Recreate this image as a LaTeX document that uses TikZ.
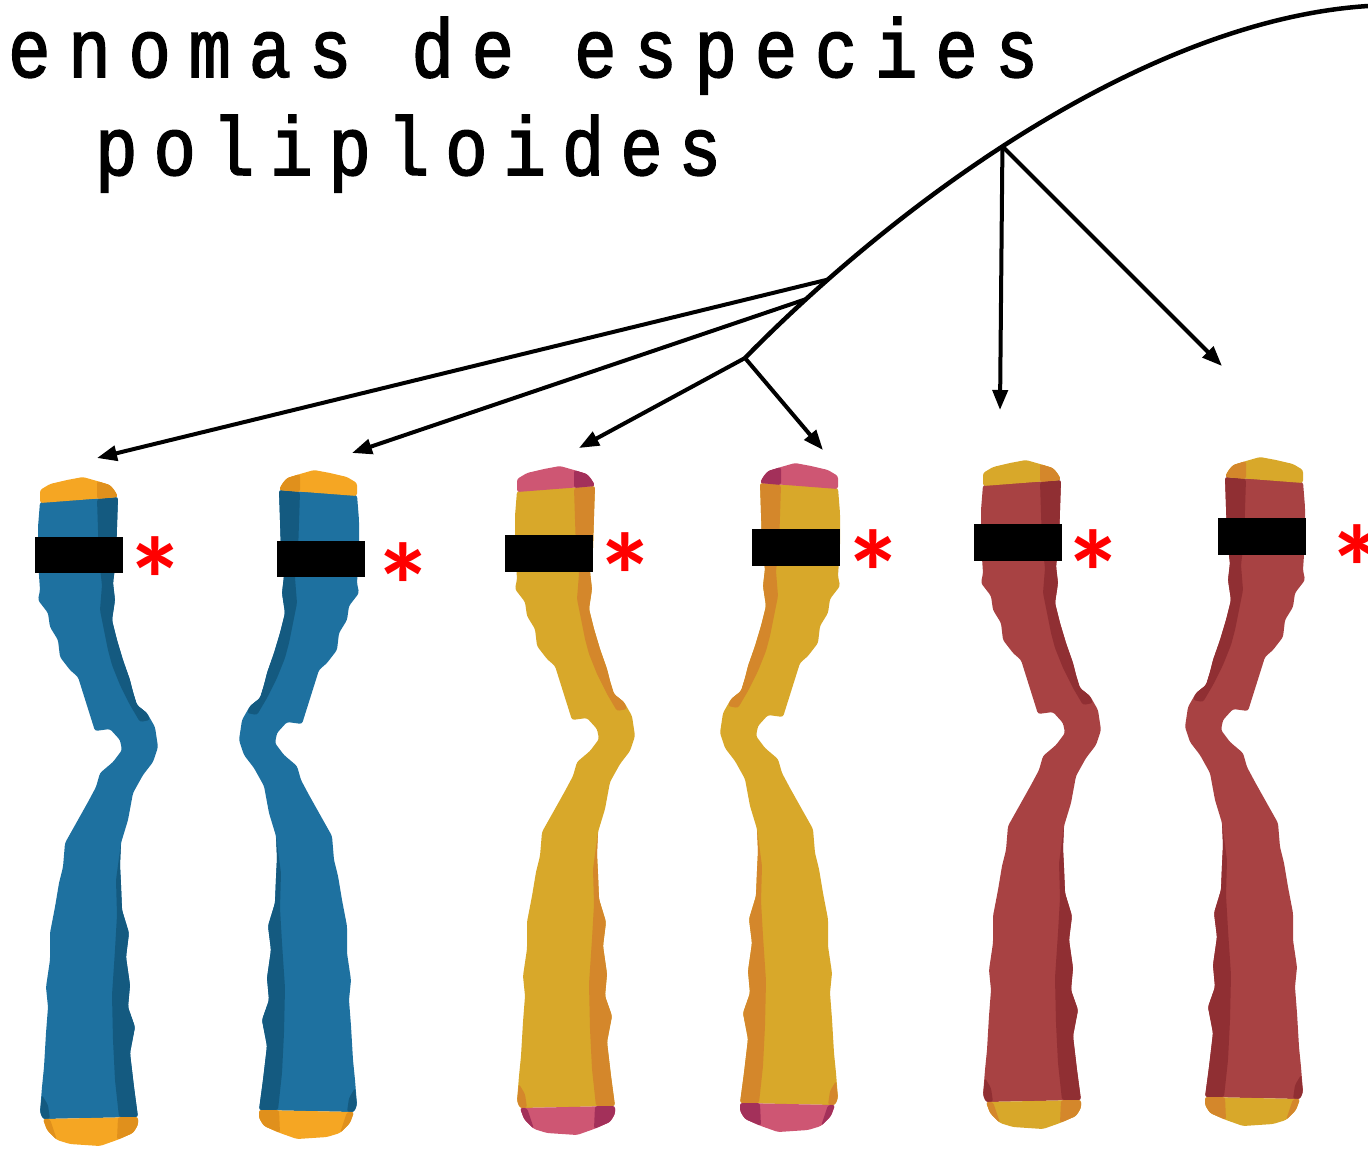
\documentclass[tikz,border=0pt]{standalone}
\usepackage{fontspec}
\newfontfamily\titlefont[LetterSpace=21.5, FakeStretch=0.85, FakeBold=2]{Liberation Mono}
\newfontfamily\subtitlefont[LetterSpace=19.3, FakeStretch=0.85, FakeBold=2]{Liberation Mono}
\newfontfamily\starfont{Carlito}
\usetikzlibrary{arrows.meta}

\definecolor{bluebody}{HTML}{1E71A0}
\definecolor{bluedark}{HTML}{145A80}
\definecolor{orangecap}{HTML}{F5A623}
\definecolor{orangedark}{HTML}{E0901C}
\definecolor{yellowbody}{HTML}{D8A82A}
\definecolor{yellowdark}{HTML}{D4872B}
\definecolor{pinkcap}{HTML}{CE5673}
\definecolor{pinkdark}{HTML}{A3305A}
\definecolor{redbody}{HTML}{A84243}
\definecolor{reddark}{HTML}{902F33}

\tikzset{
  trunk/.style={line width=4.5pt},
  link/.style={line width=4pt, -{Triangle[length=20pt,width=15pt]}},
  titletext/.style={font=\titlefont\fontsize{83}{90}\selectfont, anchor=base west, inner sep=0pt},
  subtitletext/.style={font=\subtitlefont\fontsize{83}{90}\selectfont, anchor=base west, inner sep=0pt},
  blackbar/.style={fill=black},
  redstar/.style={text=red, font=\starfont\bfseries\fontsize{120}{120}\selectfont, inner sep=0pt, anchor=center},
}

% one chromosome: #1 placement, #2 body, #3 shade, #4 telomere, #5 telomere shade
\newcommand\chromosome[5]{%
  \begin{scope}[#1, rounded corners=2.5pt]
    \fill[#2] (40,502) -- (118,497) -- (117,527) -- (116,560) -- (113,583) -- (115,600) -- (112,620)
      -- (117,640) -- (123,660) -- (130,680) -- (133,692) -- (137,705) -- (147,713) -- (155,727)
      -- (158,747) -- (153,762) -- (143,775) -- (133,793) -- (128,820) -- (121,843) -- (120,865)
      -- (121,885) -- (122,910) -- (129,933) -- (126,957) -- (130,985) -- (128,1007) -- (135,1027)
      -- (130,1053) -- (134,1087) -- (138,1117) -- (43,1119) -- (40,1112) -- (42,1087) -- (44,1067)
      -- (46,1033) -- (48,1007) -- (46,987) -- (50,960) -- (50,933) -- (55,907) -- (59,883)
      -- (63,867) -- (65,843) -- (74,827) -- (88,802) -- (96,787) -- (100,773) -- (113,762)
      -- (122,750) -- (120,740) -- (110,729) -- (95,731) -- (78,677) -- (70,670) -- (60,657)
      -- (58,640) -- (50,627) -- (48,613) -- (38,600) -- (40,590) -- (38,560) -- (38,527) -- cycle;
    \fill[#3] (97,499) -- (118,497) -- (117,527) -- (116,560) -- (113,583) -- (115,600) -- (112,620)
      -- (117,640) -- (123,660) -- (130,680) -- (133,692) -- (137,705) -- (147,713) -- (150,720)
      -- (140,722) -- (130,705) -- (120,685) -- (112,665) -- (108,650) -- (104,630) -- (100,610)
      -- (102,585) -- (99,560) -- (98,530) -- cycle;
    \fill[#3] (121,843) -- (120,865) -- (121,885) -- (122,910) -- (129,933) -- (126,957) -- (130,985)
      -- (128,1007) -- (135,1027) -- (130,1053) -- (134,1087) -- (138,1117) -- (119,1117)
      -- (115,1080) -- (113,1040) -- (112,995) -- (115,950) -- (117,915) -- (116,880) -- cycle;
    \fill[#3] (43,1119) -- (40,1112) -- (42,1095) -- (48,1105) -- (50,1119) -- cycle;
    % telomeres
    \fill[#4] (40,503) -- (40,490) -- (50,484) -- (67,480) -- (83,477) -- (97,481) -- (110,485)
      -- (115,491) -- (118,497) -- cycle;
    \fill[#5] (97,481) -- (110,485) -- (115,491) -- (118,497) -- (97,499) -- cycle;
    \fill[#4] (43,1119) -- (138,1117) -- (138,1125) -- (133,1133) -- (117,1140) -- (100,1146)
      -- (70,1144) -- (57,1140) -- (47,1130) -- cycle;
    \fill[#5] (118,1117) -- (138,1117) -- (138,1125) -- (133,1133) -- (117,1140) -- cycle;
    \fill[#5] (43,1119) -- (50,1119) -- (57,1140) -- (47,1130) -- cycle;
  \end{scope}}

\begin{document}
\begin{tikzpicture}[x=1pt, y=-1pt]
  \useasboundingbox (0,0) rectangle (1368,1149);

  % title
  \node[titletext] (title1) at (8,77) {enomas de especies};
  \node[subtitletext] (title2) at (95,175) {poliploides};

  % chromosomes
  \chromosome{shift={(0,0)}}{bluebody}{bluedark}{orangecap}{orangedark}
  \chromosome{shift={(397,-7)}, xscale=-1}{bluebody}{bluedark}{orangecap}{orangedark}
  \chromosome{shift={(477,-11)}}{yellowbody}{yellowdark}{pinkcap}{pinkdark}
  \chromosome{shift={(878,-14)}, xscale=-1}{yellowbody}{yellowdark}{pinkcap}{pinkdark}
  \chromosome{shift={(943,-17)}}{redbody}{reddark}{yellowbody}{yellowdark}
  \chromosome{shift={(1343,-20)}, xscale=-1}{redbody}{reddark}{yellowbody}{yellowdark}

  % markers
  \fill[blackbar] (35,537) rectangle (123,573);
  \fill[blackbar] (277,541) rectangle (365,577);
  \fill[blackbar] (505,535) rectangle (593,572);
  \fill[blackbar] (752,529) rectangle (840,566);
  \fill[blackbar] (974,524) rectangle (1062,561);
  \fill[blackbar] (1218,518) rectangle (1306,555);

  \node[redstar] (s1) at (155,580) {*};
  \node[redstar] (s2) at (403,586) {*};
  \node[redstar] (s3) at (625,576) {*};
  \node[redstar] (s4) at (873,573) {*};
  \node[redstar] (s5) at (1093,573) {*};
  \node[redstar] (s6) at (1357,568) {*};

  % tree
  \path (745,358) coordinate (root) .. controls (905,195) and (1150,20) .. (1368,6) coordinate (top)
    coordinate[pos=0.12] (b2) coordinate[pos=0.16] (b1) coordinate[pos=0.45] (b5);
  \draw[trunk] (root) .. controls (905,195) and (1150,20) .. (top);

  \coordinate (t1) at (97,458);
  \coordinate (t2) at (352,453);
  \coordinate (t3) at (579,448);
  \coordinate (t4) at (823,450);
  \coordinate (t5) at (1000,410);
  \coordinate (t6) at (1222,366);

  \draw[link] (b1) -- (t1);
  \draw[link] (b2) -- (t2);
  \draw[link] (root) -- (t3);
  \draw[link] (root) -- (t4);
  \draw[link] (b5) -- (t5);
  \draw[link] (b5) -- (t6);
\end{tikzpicture}
\end{document}
